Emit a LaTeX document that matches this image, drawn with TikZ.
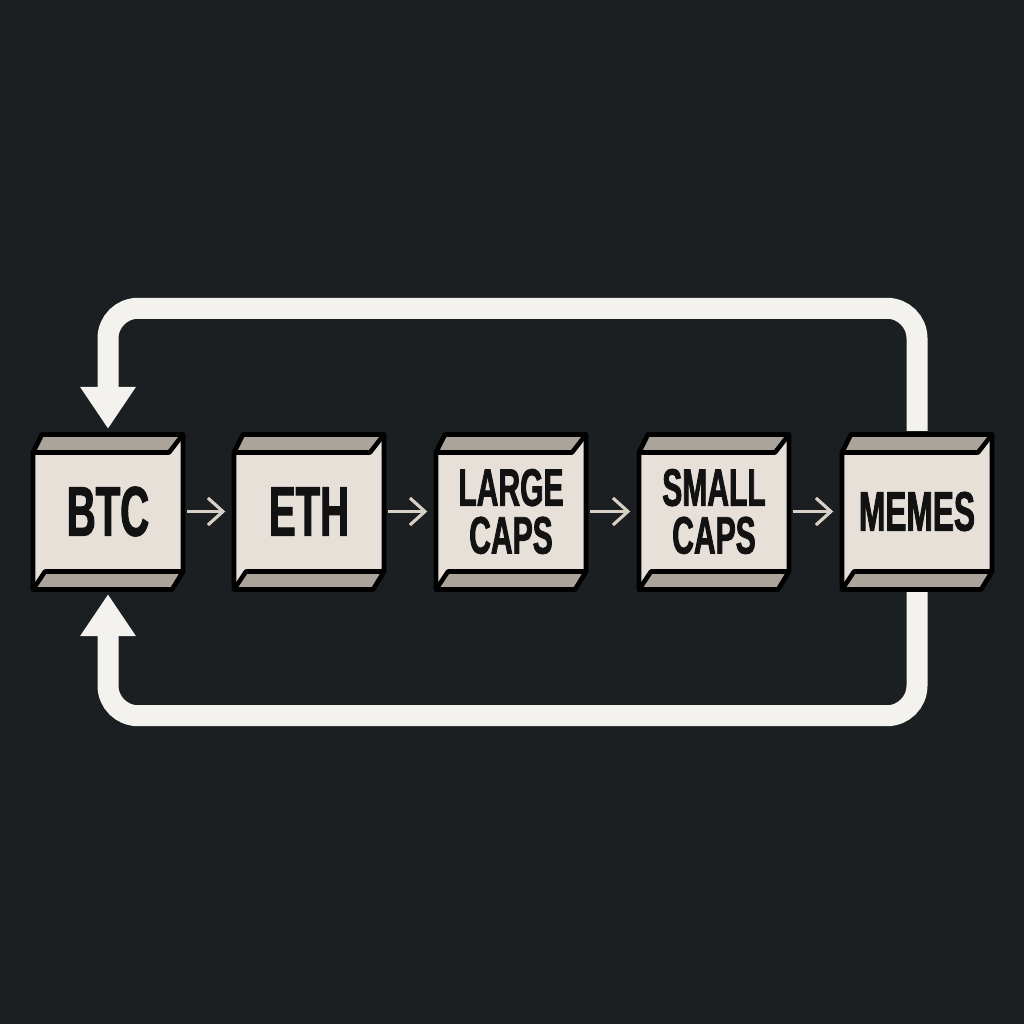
\documentclass[tikz,border=0pt]{standalone}
\usepackage{fontspec}
\newfontfamily\tierfont[FakeStretch=0.57,FakeBold=1.5]{Liberation Sans Bold}
\usetikzlibrary{calc,arrows.meta}
\definecolor{bgclr}{HTML}{1B1F21}
\definecolor{faceclr}{HTML}{E6E0D8}
\definecolor{bevelclr}{HTML}{AAA49B}
\definecolor{loopclr}{HTML}{F4F2EE}
\definecolor{stepclr}{HTML}{D8D0C6}
\tikzset{
  boxline/.style={draw=black,line width=1.3pt,line join=round},
  tiertext/.style={inner sep=0pt,minimum width=1.5cm,minimum height=1.6cm,align=center,text=black!93},
  bigtier/.style={tiertext,font=\tierfont\fontsize{20}{21}\selectfont},
  midtier/.style={tiertext,font=\tierfont\fontsize{15.8}{17}\selectfont},
  twotier/.style={tiertext,font=\tierfont\fontsize{15}{13.6}\selectfont},
  steparrow/.style={draw=stepclr,line width=0.9pt,-{Straight Barb[length=0.15cm,width=0.27cm]},shorten <=0.03cm,shorten >=0.08cm},
  looparrow/.style={draw=loopclr,line width=0.21cm,rounded corners=0.3cm,-{Triangle[length=0.42cm,width=0.53cm]},shorten >=0.02cm}
}
% box with bevels, then the named label node on top
\def\tierbox(#1)[#2][#3]#4{%
  \begin{scope}[shift={(#1)}]
    \draw[boxline,fill=faceclr] (-0.75,0.59) -- (-0.66,0.77) -- (0.75,0.77) -- (0.75,-0.60) -- (0.64,-0.78) -- (-0.75,-0.78) -- cycle;
    \draw[boxline,fill=bevelclr] (-0.75,0.59) -- (-0.66,0.77) -- (0.75,0.77) -- (0.61,0.59) -- cycle;
    \draw[boxline,fill=bevelclr] (-0.75,-0.78) -- (-0.63,-0.60) -- (0.75,-0.60) -- (0.64,-0.78) -- cycle;
  \end{scope}
  \node[#3] (#2) at (#1) {#4};
}
\begin{document}
\begin{tikzpicture}
  %%%%% BACKGROUND %%%%%
  \fill[bgclr] (0,5.115) rectangle (10.24,-5.125);

  %%%%% TIERS %%%%%
  \tierbox(1.08,0)[btc][bigtier]{BTC}
  \tierbox(3.09,0)[eth][bigtier]{ETH}
  \tierbox(5.11,0)[large][twotier]{LARGE\\CAPS}
  \tierbox(7.14,0)[small][twotier]{SMALL\\CAPS}
  \tierbox(9.17,0)[memes][midtier]{MEMES}

  \draw[steparrow] (btc) -- (eth);
  \draw[steparrow] (eth) -- (large);
  \draw[steparrow] (large) -- (small);
  \draw[steparrow] (small) -- (memes);

  %%%%% ROTATION LOOP %%%%%
  \draw[looparrow] (memes.north) -- ++(0,1.225) -| (btc.north);
  \draw[looparrow] (memes.south) -- ++(0,-1.235) -| (btc.south);
\end{tikzpicture}
\end{document}
